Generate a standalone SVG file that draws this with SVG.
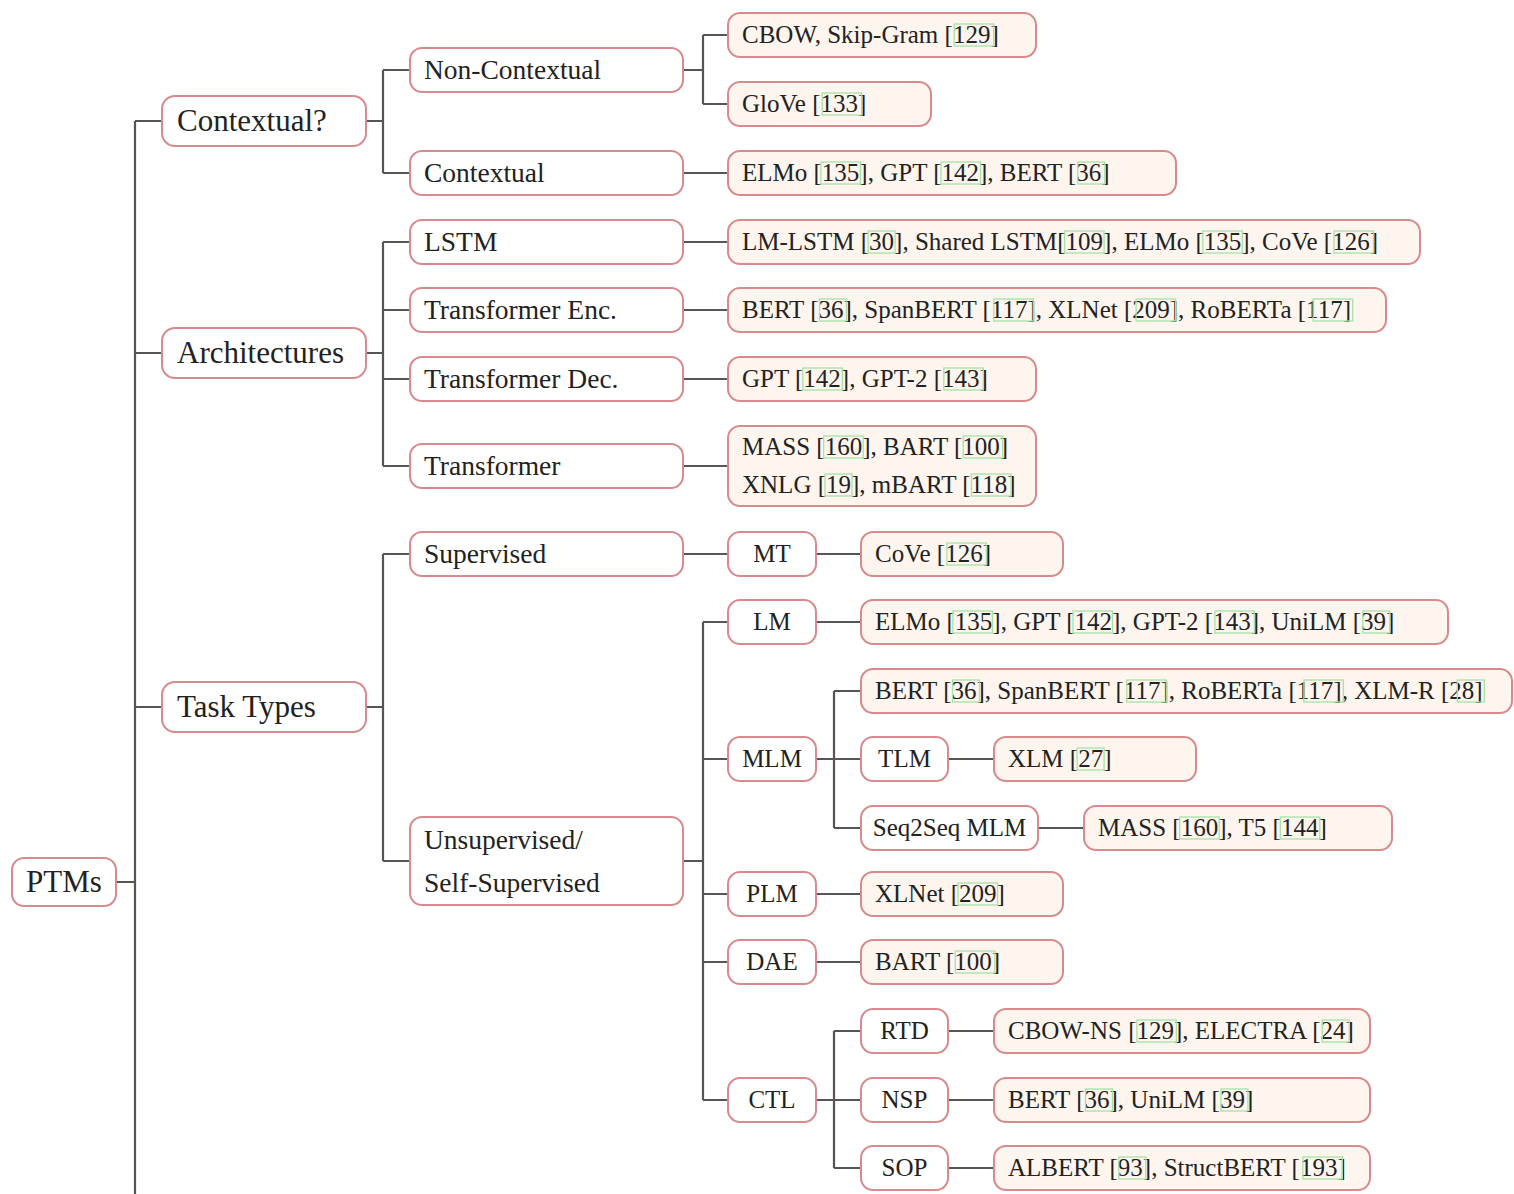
<svg xmlns="http://www.w3.org/2000/svg" width="1514" height="1194" viewBox="0 0 1514 1194">
<style>
.n{fill:#ffffff;stroke:#d88a8c;stroke-width:2}
.lf{fill:#fdf5ee;stroke:#d88a8c;stroke-width:2}
.c{fill:none;stroke:#555;stroke-width:2.2}
.ct{fill:none;stroke:#a6e2a6;stroke-width:1.3}
text{font-family:"Liberation Serif","Times New Roman",serif;fill:#222}
.t1{font-size:31px}
.t2{font-size:27.5px}
.t3{font-size:25px}
.m{text-anchor:middle}
</style>
<rect width="1514" height="1194" fill="#ffffff"/>
<g id="connectors">
<path class="c" d="M116 882H135M135 121V1194M135 121H162M135 353H162M135 707H162"/>
<path class="c" d="M366 121H383M383 70V173M383 70H410M383 173H410"/>
<path class="c" d="M366 353H383M383 242V466M383 242H410M383 310H410M383 379H410M383 466H410"/>
<path class="c" d="M366 707H383M383 554V861M383 554H410M383 861H410"/>
<path class="c" d="M683 70H703M703 35V104M703 35H728M703 104H728"/>
<path class="c" d="M683 173H728M683 242H728M683 310H728M683 379H728M683 466H728"/>
<path class="c" d="M683 554H728M816 554H861"/>
<path class="c" d="M683 861H703M703 622V1100M703 622H728M703 759H728M703 894H728M703 962H728M703 1100H728"/>
<path class="c" d="M816 622H861M816 894H861M816 962H861"/>
<path class="c" d="M816 759H834M834 691V828M834 691H861M834 759H861M834 828H861M948 759H994M1038 828H1084"/>
<path class="c" d="M816 1100H834M834 1031V1168M834 1031H861M834 1100H861M834 1168H861M948 1031H994M948 1100H994M948 1168H994"/>
</g>
<g id="ptms"><rect class="n" x="12" y="858" width="104" height="48" rx="12"/><text class="t1 m" x="64" y="892">PTMs</text></g>
<g id="contextualq"><rect class="n" x="162" y="96" width="204" height="50" rx="13"/><text class="t1" x="177" y="131">Contextual?</text></g>
<g id="architectures"><rect class="n" x="162" y="328" width="204" height="50" rx="13"/><text class="t1" x="177" y="363">Architectures</text></g>
<g id="tasktypes"><rect class="n" x="162" y="682" width="204" height="50" rx="13"/><text class="t1" x="177" y="717">Task Types</text></g>
<g id="noncontextual"><rect class="n" x="410" y="48" width="273" height="44" rx="12"/><text class="t2" x="424" y="79">Non-Contextual</text></g>
<g id="contextual"><rect class="n" x="410" y="151" width="273" height="44" rx="12"/><text class="t2" x="424" y="182">Contextual</text></g>
<g id="lstm"><rect class="n" x="410" y="220" width="273" height="44" rx="12"/><text class="t2" x="424" y="251">LSTM</text></g>
<g id="tenc"><rect class="n" x="410" y="288" width="273" height="44" rx="12"/><text class="t2" x="424" y="319">Transformer Enc.</text></g>
<g id="tdec"><rect class="n" x="410" y="357" width="273" height="44" rx="12"/><text class="t2" x="424" y="388">Transformer Dec.</text></g>
<g id="transformer"><rect class="n" x="410" y="444" width="273" height="44" rx="12"/><text class="t2" x="424" y="475">Transformer</text></g>
<g id="supervised"><rect class="n" x="410" y="532" width="273" height="44" rx="12"/><text class="t2" x="424" y="563">Supervised</text></g>
<g id="unsupervised"><rect class="n" x="410" y="817" width="273" height="88" rx="12"/><text class="t2" x="424" y="849">Unsupervised/</text><text class="t2" x="424" y="892">Self-Supervised</text></g>
<g id="mt"><rect class="n" x="728" y="532" width="88" height="44" rx="12"/><text class="t3 m" x="772" y="562">MT</text></g>
<g id="lm"><rect class="n" x="728" y="600" width="88" height="44" rx="12"/><text class="t3 m" x="772" y="630">LM</text></g>
<g id="mlm"><rect class="n" x="728" y="737" width="88" height="44" rx="12"/><text class="t3 m" x="772" y="767">MLM</text></g>
<g id="plm"><rect class="n" x="728" y="872" width="88" height="44" rx="12"/><text class="t3 m" x="772" y="902">PLM</text></g>
<g id="dae"><rect class="n" x="728" y="940" width="88" height="44" rx="12"/><text class="t3 m" x="772" y="970">DAE</text></g>
<g id="ctl"><rect class="n" x="728" y="1078" width="88" height="44" rx="12"/><text class="t3 m" x="772" y="1108">CTL</text></g>
<g id="tlm"><rect class="n" x="861" y="737" width="87" height="44" rx="12"/><text class="t3 m" x="904.5" y="767">TLM</text></g>
<g id="seq2seq"><rect class="n" x="861" y="806" width="177" height="44" rx="12"/><text class="t3 m" x="949.5" y="836">Seq2Seq MLM</text></g>
<g id="rtd"><rect class="n" x="861" y="1009" width="87" height="44" rx="12"/><text class="t3 m" x="904.5" y="1039">RTD</text></g>
<g id="nsp"><rect class="n" x="861" y="1078" width="87" height="44" rx="12"/><text class="t3 m" x="904.5" y="1108">NSP</text></g>
<g id="sop"><rect class="n" x="861" y="1146" width="87" height="44" rx="12"/><text class="t3 m" x="904.5" y="1176">SOP</text></g>
<g id="leaf-cbow"><rect class="lf" x="728" y="13" width="308" height="44" rx="12"/><text class="t3" x="742" y="43">CBOW, Skip-Gram [129]</text><rect class="ct" x="954.2" y="24" width="39.5" height="22"/></g>
<g id="leaf-glove"><rect class="lf" x="728" y="82" width="203" height="44" rx="12"/><text class="t3" x="742" y="112">GloVe [133]</text><rect class="ct" x="822.2" y="93" width="39.5" height="22"/></g>
<g id="leaf-elmo"><rect class="lf" x="728" y="151" width="448" height="44" rx="12"/><text class="t3" x="742" y="181">ELMo [135], GPT [142], BERT [36]</text><rect class="ct" x="820.9" y="162" width="39.5" height="22"/><rect class="ct" x="941" y="162" width="39.5" height="22"/><rect class="ct" x="1077.8" y="162" width="27" height="22"/></g>
<g id="leaf-lstm"><rect class="lf" x="728" y="220" width="692" height="44" rx="12"/><text class="t3" x="742" y="250">LM-LSTM [30], Shared LSTM[109], ELMo [135], CoVe [126]</text><rect class="ct" x="868.1" y="231" width="27" height="22"/><rect class="ct" x="1064.6" y="231" width="39.5" height="22"/><rect class="ct" x="1202.8" y="231" width="39.5" height="22"/><rect class="ct" x="1334" y="231" width="39.5" height="22"/></g>
<g id="leaf-enc"><rect class="lf" x="728" y="288" width="658" height="44" rx="12"/><text class="t3" x="742" y="318">BERT [36], SpanBERT [117], XLNet [209], RoBERTa [117]</text><rect class="ct" x="819.5" y="299" width="27" height="22"/><rect class="ct" x="993.8" y="299" width="39.5" height="22"/><rect class="ct" x="1136.1" y="299" width="39.5" height="22"/><rect class="ct" x="1313.2" y="299" width="39.5" height="22"/></g>
<g id="leaf-dec"><rect class="lf" x="728" y="357" width="308" height="44" rx="12"/><text class="t3" x="742" y="387">GPT [142], GPT-2 [143]</text><rect class="ct" x="802.8" y="368" width="39.5" height="22"/><rect class="ct" x="943.8" y="368" width="39.5" height="22"/></g>
<g id="leaf-trans"><rect class="lf" x="728" y="426" width="308" height="80" rx="12"/><text class="t3" x="742" y="455">MASS [160], BART [100]</text><text class="t3" x="742" y="493">XNLG [19], mBART [118]</text><rect class="ct" x="823.7" y="436" width="39.5" height="22"/><rect class="ct" x="963.2" y="436" width="39.5" height="22"/><rect class="ct" x="825" y="474" width="27" height="22"/><rect class="ct" x="971.5" y="474" width="39.5" height="22"/></g>
<g id="leaf-cove"><rect class="lf" x="861" y="532" width="202" height="44" rx="12"/><text class="t3" x="875" y="562">CoVe [126]</text><rect class="ct" x="946.9" y="543" width="39.5" height="22"/></g>
<g id="leaf-lm"><rect class="lf" x="861" y="600" width="587" height="44" rx="12"/><text class="t3" x="875" y="630">ELMo [135], GPT [142], GPT-2 [143], UniLM [39]</text><rect class="ct" x="952.9" y="611" width="39.5" height="22"/><rect class="ct" x="1073" y="611" width="39.5" height="22"/><rect class="ct" x="1214.9" y="611" width="39.5" height="22"/><rect class="ct" x="1362.8" y="611" width="27" height="22"/></g>
<g id="leaf-mlm"><rect class="lf" x="861" y="669" width="651" height="44" rx="12"/><text class="t3" x="875" y="699">BERT [36], SpanBERT [117], RoBERTa [117], XLM-R [28]</text><rect class="ct" x="952.5" y="680" width="27" height="22"/><rect class="ct" x="1126.8" y="680" width="39.5" height="22"/><rect class="ct" x="1303.9" y="680" width="39.5" height="22"/><rect class="ct" x="1457.3" y="680" width="27" height="22"/></g>
<g id="leaf-xlm"><rect class="lf" x="994" y="737" width="202" height="44" rx="12"/><text class="t3" x="1008" y="767">XLM [27]</text><rect class="ct" x="1077.1" y="748" width="27" height="22"/></g>
<g id="leaf-mass"><rect class="lf" x="1084" y="806" width="308" height="44" rx="12"/><text class="t3" x="1098" y="836">MASS [160], T5 [144]</text><rect class="ct" x="1179.7" y="817" width="39.5" height="22"/><rect class="ct" x="1280.3" y="817" width="39.5" height="22"/></g>
<g id="leaf-xlnet"><rect class="lf" x="861" y="872" width="202" height="44" rx="12"/><text class="t3" x="875" y="902">XLNet [209]</text><rect class="ct" x="958" y="883" width="39.5" height="22"/></g>
<g id="leaf-bart"><rect class="lf" x="861" y="940" width="202" height="44" rx="12"/><text class="t3" x="875" y="970">BART [100]</text><rect class="ct" x="955.3" y="951" width="39.5" height="22"/></g>
<g id="leaf-rtd"><rect class="lf" x="994" y="1009" width="376" height="44" rx="12"/><text class="t3" x="1008" y="1039">CBOW-NS [129], ELECTRA [24]</text><rect class="ct" x="1136.9" y="1020" width="39.5" height="22"/><rect class="ct" x="1322.3" y="1020" width="27" height="22"/></g>
<g id="leaf-nsp"><rect class="lf" x="994" y="1078" width="376" height="44" rx="12"/><text class="t3" x="1008" y="1108">BERT [36], UniLM [39]</text><rect class="ct" x="1085.5" y="1089" width="27" height="22"/><rect class="ct" x="1220.9" y="1089" width="27" height="22"/></g>
<g id="leaf-sop"><rect class="lf" x="994" y="1146" width="376" height="44" rx="12"/><text class="t3" x="1008" y="1176">ALBERT [93], StructBERT [193]</text><rect class="ct" x="1118.8" y="1157" width="27" height="22"/><rect class="ct" x="1302.8" y="1157" width="39.5" height="22"/></g>
</svg>
